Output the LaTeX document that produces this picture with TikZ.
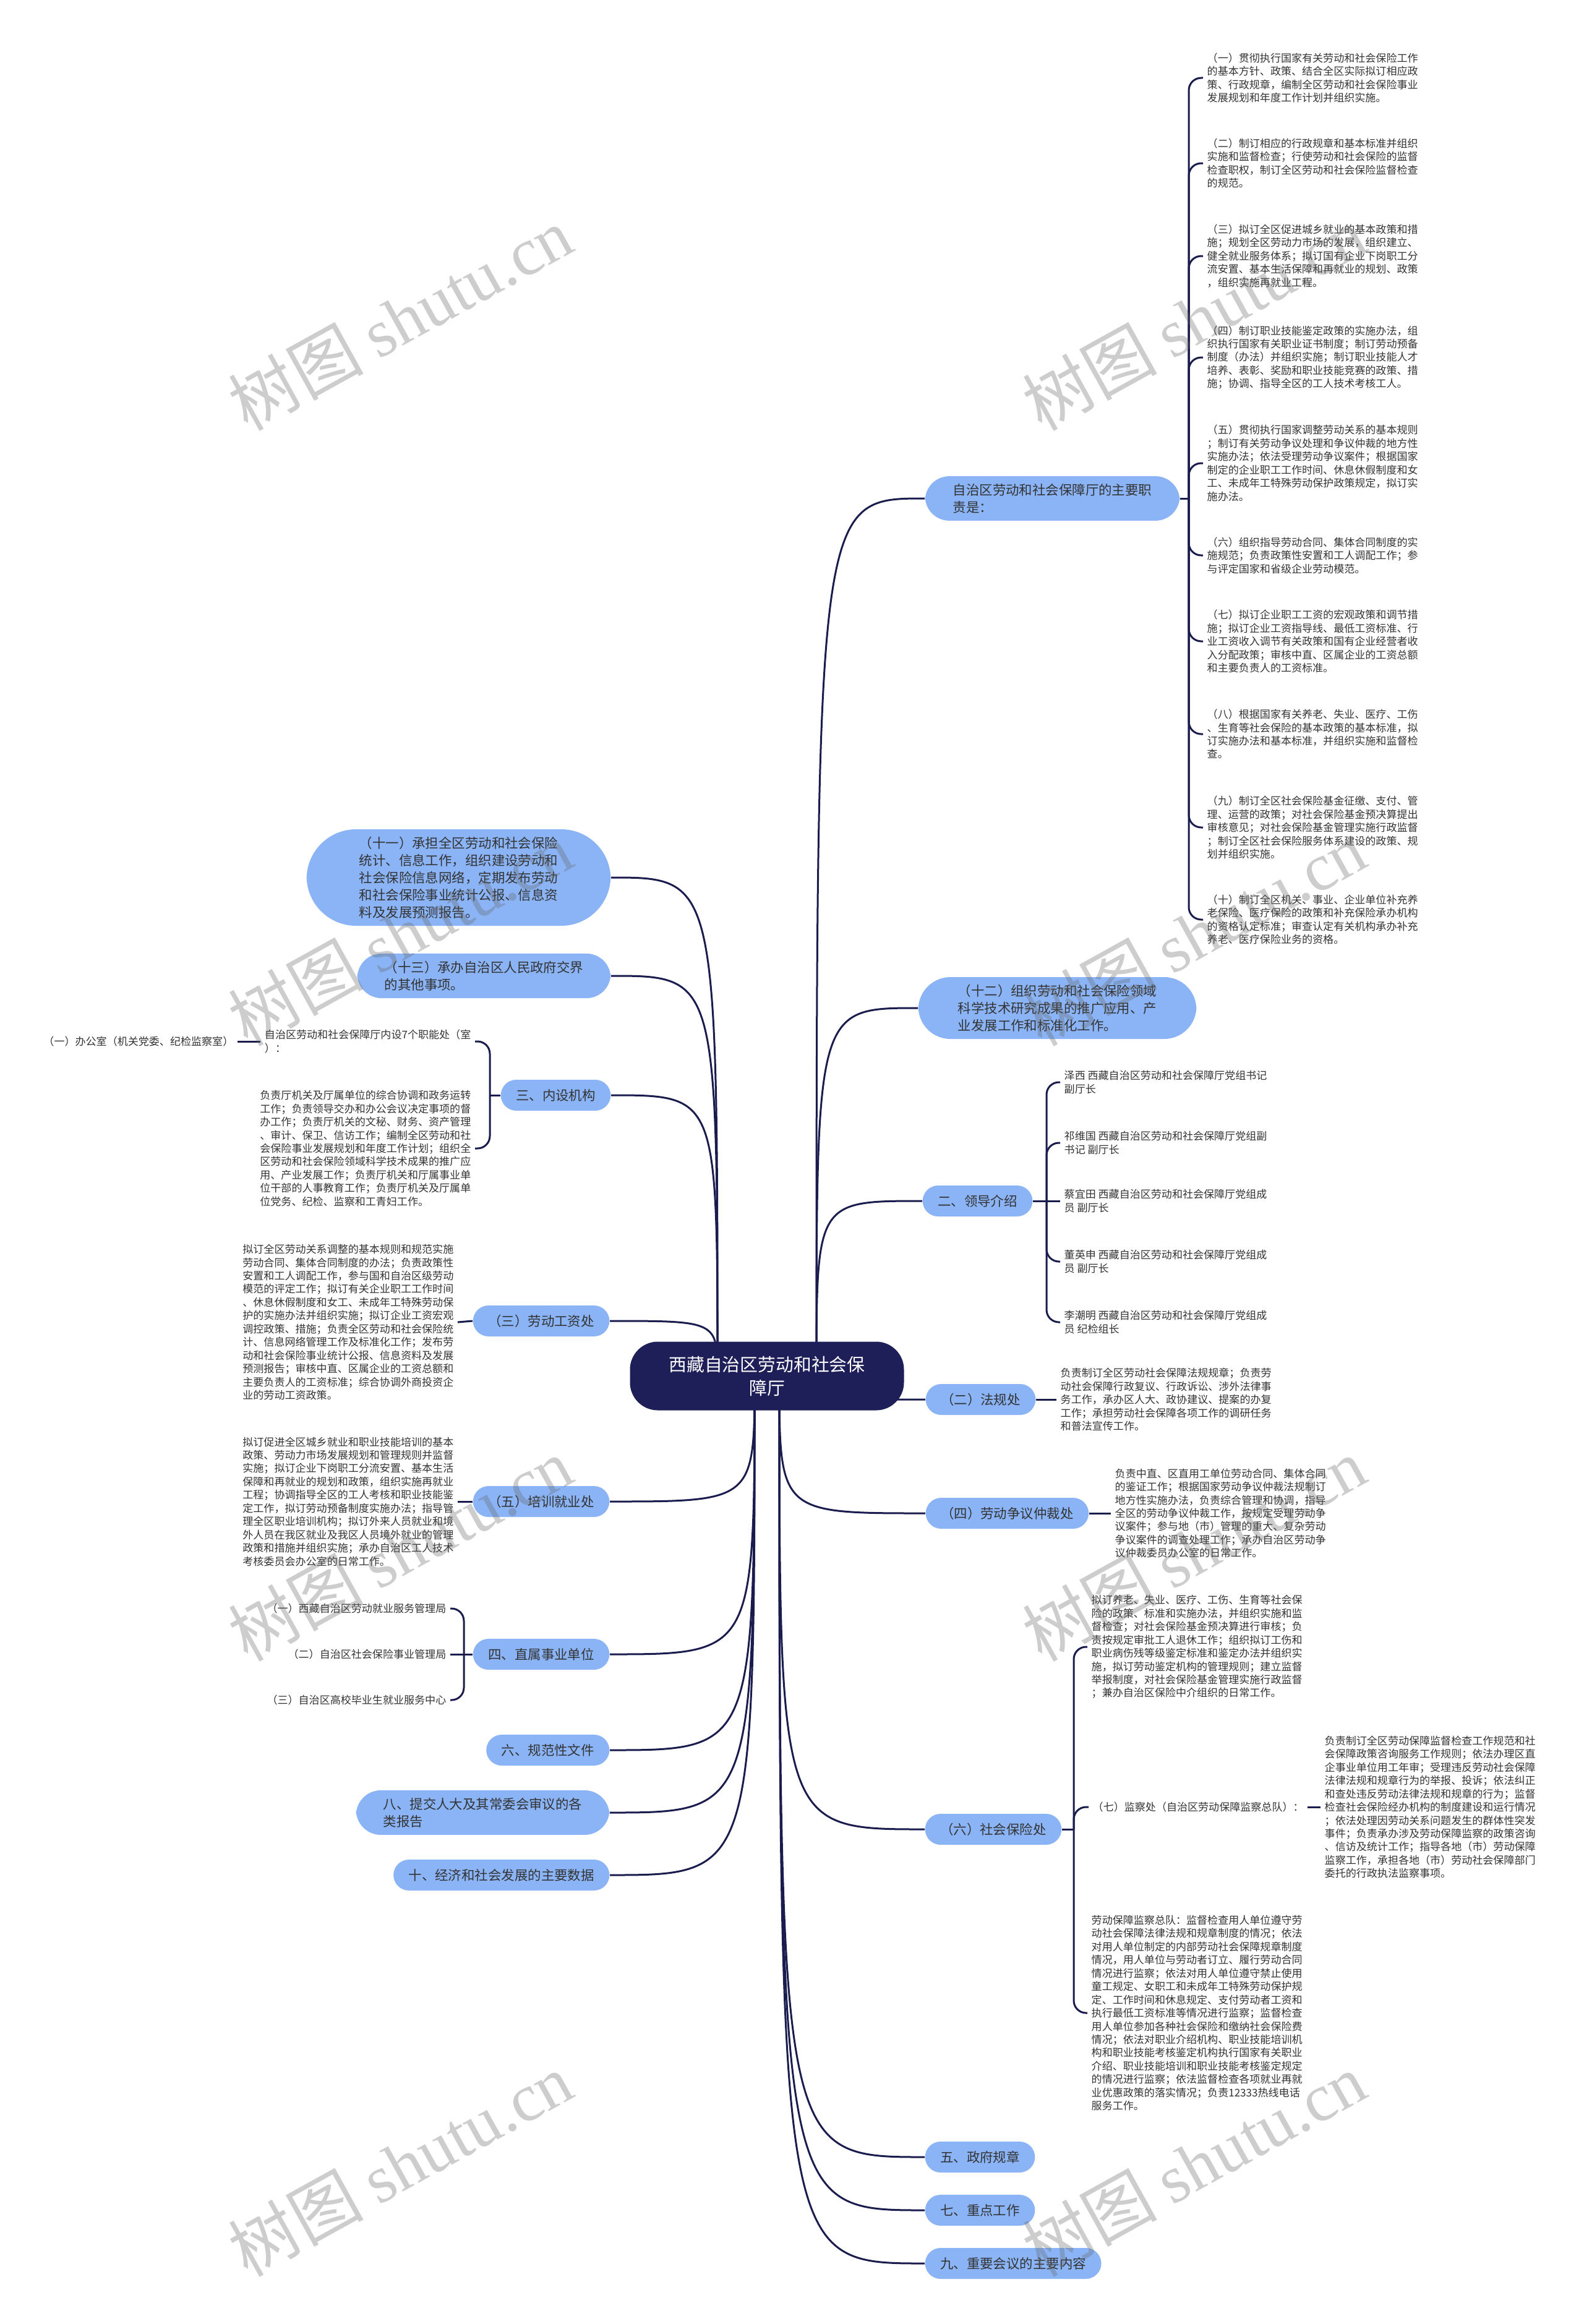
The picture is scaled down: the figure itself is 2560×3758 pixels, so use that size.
\documentclass[tikz,border=0pt]{standalone}
\usepackage{fontspec}
\setmainfont{Noto Sans CJK SC}
\newfontfamily\wmlatin{Liberation Serif}
\usepackage{tikz}
\usetikzlibrary{backgrounds}

\definecolor{pillblue}{RGB}{139,180,247}
\definecolor{rootnavy}{RGB}{30,30,88}
\definecolor{linknavy}{RGB}{26,28,78}
\definecolor{inktext}{RGB}{51,51,51}

\newcommand{\leaffont}{\fontsize{4.85pt}{6.1pt}\selectfont}
\newcommand{\pillfont}{\fontsize{6.1pt}{7.95pt}\selectfont}
\newcommand{\rootfont}{\fontsize{8.2pt}{10.8pt}\selectfont}
\newcommand{\wmfont}{\fontsize{31pt}{33pt}\selectfont}

\begin{document}
\begin{tikzpicture}[
    x=0.1mm, y=-0.1mm,
    linkline/.style={draw=linknavy, line width=0.3mm},
    forkline/.style={linkline, rounded corners=2mm},
    rootbox/.style={
        fill=rootnavy,
        text=white,
        font=\rootfont,
        align=center,
        rounded corners=4.5mm,
        minimum width=44.3mm,
        minimum height=11.1mm
    },
    pillbox/.style={
        fill=pillblue,
        text=inktext,
        font=\pillfont,
        align=left,
        rounded corners=2.5mm,
        minimum height=5mm,
        inner xsep=2.45mm,
        inner ysep=1.2mm
    },
    leaftext/.style={
        text=inktext,
        font=\leaffont,
        align=left,
        inner xsep=0.6mm,
        inner ysep=0.5mm
    },
    wmark/.style={
        text=black!60,
        opacity=0.33,
        rotate=29,
        font=\wmfont
    }
]
\useasboundingbox (0,0) rectangle (2560,3758);

% =========================================================
% root
% =========================================================
\node[rootbox] (root) at (1240,2225) {西藏自治区劳动和社会保\\障厅};

% =========================================================
% right branches
% =========================================================
\node[pillbox, anchor=west, rounded corners=3.9mm, inner xsep=4.5mm] (duty) at (1495,806)
    {自治区劳动和社会保障厅的主要职\\责是：};
\node[pillbox, anchor=west, rounded corners=5.2mm, inner xsep=6.4mm] (sci) at (1484,1630)
    {（十二）组织劳动和社会保险领域\\科学技术研究成果的推广应用、产\\业发展工作和标准化工作。};
\node[pillbox, anchor=west] (lead)  at (1491,1942) {二、领导介绍};
\node[pillbox, anchor=west] (law)   at (1496,2263) {（二）法规处};
\node[pillbox, anchor=west] (arb)   at (1496,2447) {（四）劳动争议仲裁处};
\node[pillbox, anchor=west] (ins)   at (1495,2958) {（六）社会保险处};
\node[pillbox, anchor=west] (regs)  at (1495,3488) {五、政府规章};
\node[pillbox, anchor=west] (keyw)  at (1495,3574) {七、重点工作};
\node[pillbox, anchor=west] (meet)  at (1495,3660) {九、重要会议的主要内容};

% =========================================================
% left branches
% =========================================================
\node[pillbox, anchor=east, rounded corners=8mm, inner xsep=8.5mm] (stat) at (988,1419)
    {（十一）承担全区劳动和社会保险\\统计、信息工作，组织建设劳动和\\社会保险信息网络，定期发布劳动\\和社会保险事业统计公报、信息资\\料及发展预测报告。};
\node[pillbox, anchor=east, rounded corners=3.9mm, inner xsep=4.4mm] (other) at (988,1578)
    {（十三）承办自治区人民政府交界\\的其他事项。};
\node[pillbox, anchor=east] (inner) at (988,1771) {三、内设机构};
\node[pillbox, anchor=east] (wage)  at (986,2136) {（三）劳动工资处};
\node[pillbox, anchor=east] (train) at (986,2428) {（五）培训就业处};
\node[pillbox, anchor=east] (unit)  at (986,2675) {四、直属事业单位};
\node[pillbox, anchor=east] (norm)  at (986,2830) {六、规范性文件};
\node[pillbox, anchor=east, rounded corners=4mm, inner xsep=4.4mm] (report) at (986,2931)
    {八、提交人大及其常委会审议的各\\类报告};
\node[pillbox, anchor=east] (data)  at (986,3032) {十、经济和社会发展的主要数据};

% =========================================================
% main duties (right column)
% =========================================================
\node[leaftext, anchor=west] (duty1) at (1945,126)
    {（一）贯彻执行国家有关劳动和社会保险工作\\的基本方针、政策、结合全区实际拟订相应政\\策、行政规章，编制全区劳动和社会保险事业\\发展规划和年度工作计划并组织实施。};
\node[leaftext, anchor=west] (duty2) at (1945,264)
    {（二）制订相应的行政规章和基本标准并组织\\实施和监督检查；行使劳动和社会保险的监督\\检查职权，制订全区劳动和社会保险监督检查\\的规范。};
\node[leaftext, anchor=west] (duty3) at (1945,414)
    {（三）拟订全区促进城乡就业的基本政策和措\\施；规划全区劳动力市场的发展，组织建立、\\健全就业服务体系；拟订国有企业下岗职工分\\流安置、基本生活保障和再就业的规划、政策\\，组织实施再就业工程。};
\node[leaftext, anchor=west] (duty4) at (1945,578)
    {（四）制订职业技能鉴定政策的实施办法，组\\织执行国家有关职业证书制度；制订劳动预备\\制度（办法）并组织实施；制订职业技能人才\\培养、表彰、奖励和职业技能竞赛的政策、措\\施；协调、指导全区的工人技术考核工人。};
\node[leaftext, anchor=west] (duty5) at (1945,749)
    {（五）贯彻执行国家调整劳动关系的基本规则\\；制订有关劳动争议处理和争议仲裁的地方性\\实施办法；依法受理劳动争议案件；根据国家\\制定的企业职工工作时间、休息休假制度和女\\工、未成年工特殊劳动保护政策规定，拟订实\\施办法。};
\node[leaftext, anchor=west] (duty6) at (1945,898)
    {（六）组织指导劳动合同、集体合同制度的实\\施规范；负责政策性安置和工人调配工作；参\\与评定国家和省级企业劳动模范。};
\node[leaftext, anchor=west] (duty7) at (1945,1037)
    {（七）拟订企业职工工资的宏观政策和调节措\\施；拟订企业工资指导线、最低工资标准、行\\业工资收入调节有关政策和国有企业经营者收\\入分配政策；审核中直、区属企业的工资总额\\和主要负责人的工资标准。};
\node[leaftext, anchor=west] (duty8) at (1945,1187)
    {（八）根据国家有关养老、失业、医疗、工伤\\、生育等社会保险的基本政策的基本标准，拟\\订实施办法和基本标准，并组织实施和监督检\\查。};
\node[leaftext, anchor=west] (duty9) at (1945,1338)
    {（九）制订全区社会保险基金征缴、支付、管\\理、运营的政策；对社会保险基金预决算提出\\审核意见；对社会保险基金管理实施行政监督\\；制订全区社会保险服务体系建设的政策、规\\划并组织实施。};
\node[leaftext, anchor=west] (duty10) at (1945,1487)
    {（十）制订全区机关、事业、企业单位补充养\\老保险、医疗保险的政策和补充保险承办机构\\的资格认定标准；审查认定有关机构承办补充\\养老、医疗保险业务的资格。};

% =========================================================
% leaders, offices
% =========================================================
\node[leaftext, anchor=west] (lead1) at (1714,1750) {泽西 西藏自治区劳动和社会保障厅党组书记\\副厅长};
\node[leaftext, anchor=west] (lead2) at (1714,1848) {祁维国 西藏自治区劳动和社会保障厅党组副\\书记 副厅长};
\node[leaftext, anchor=west] (lead3) at (1714,1942) {蔡宜田 西藏自治区劳动和社会保障厅党组成\\员 副厅长};
\node[leaftext, anchor=west] (lead4) at (1714,2040) {董英申 西藏自治区劳动和社会保障厅党组成\\员 副厅长};
\node[leaftext, anchor=west] (lead5) at (1714,2138) {李潮明 西藏自治区劳动和社会保障厅党组成\\员 纪检组长};

\node[leaftext, anchor=west] (lawtxt) at (1708,2263)
    {负责制订全区劳动社会保障法规规章；负责劳\\动社会保障行政复议、行政诉讼、涉外法律事\\务工作，承办区人大、政协建议、提案的办复\\工作；承担劳动社会保障各项工作的调研任务\\和普法宣传工作。};
\node[leaftext, anchor=west] (arbtxt) at (1796,2447)
    {负责中直、区直用工单位劳动合同、集体合同\\的鉴证工作；根据国家劳动争议仲裁法规制订\\地方性实施办法，负责综合管理和协调，指导\\全区的劳动争议仲裁工作，按规定受理劳动争\\议案件；参与地（市）管理的重大、复杂劳动\\争议案件的调查处理工作；承办自治区劳动争\\议仲裁委员办公室的日常工作。};

\node[leaftext, anchor=west] (ins1) at (1758,2663)
    {拟订养老、失业、医疗、工伤、生育等社会保\\险的政策、标准和实施办法，并组织实施和监\\督检查；对社会保险基金预决算进行审核；负\\责按规定审批工人退休工作；组织拟订工伤和\\职业病伤残等级鉴定标准和鉴定办法并组织实\\施，拟订劳动鉴定机构的管理规则；建立监督\\举报制度，对社会保险基金管理实施行政监督\\；兼办自治区保险中介组织的日常工作。};
\node[leaftext, anchor=west] (ins7) at (1760,2922) {（七）监察处（自治区劳动保障监察总队）：};
\node[leaftext, anchor=west] (inspect) at (2135,2922)
    {负责制订全区劳动保障监督检查工作规范和社\\会保障政策咨询服务工作规则；依法办理区直\\企事业单位用工年审；受理违反劳动社会保障\\法律法规和规章行为的举报、投诉；依法纠正\\和查处违反劳动法律法规和规章的行为；监督\\检查社会保险经办机构的制度建设和运行情况\\；依法处理因劳动关系问题发生的群体性突发\\事件；负责承办涉及劳动保障监察的政策咨询\\、信访及统计工作；指导各地（市）劳动保障\\监察工作，承担各地（市）劳动社会保障部门\\委托的行政执法监察事项。};
\node[leaftext, anchor=west] (ins2) at (1758,3255)
    {劳动保障监察总队：监督检查用人单位遵守劳\\动社会保障法律法规和规章制度的情况；依法\\对用人单位制定的内部劳动社会保障规章制度\\情况，用人单位与劳动者订立、履行劳动合同\\情况进行监察；依法对用人单位遵守禁止使用\\童工规定、女职工和未成年工特殊劳动保护规\\定、工作时间和休息规定、支付劳动者工资和\\执行最低工资标准等情况进行监察；监督检查\\用人单位参加各种社会保险和缴纳社会保险费\\情况；依法对职业介绍机构、职业技能培训机\\构和职业技能考核鉴定机构执行国家有关职业\\介绍、职业技能培训和职业技能考核鉴定规定\\的情况进行监察；依法监督检查各项就业再就\\业优惠政策的落实情况；负责12333热线电话\\服务工作。};

% left leaves
\node[leaftext, anchor=east] (seven) at (768,1684) {自治区劳动和社会保障厅内设7个职能处（室\\）：};
\node[leaftext, anchor=east] (office) at (384,1684) {（一）办公室（机关党委、纪检监察室）};
\node[leaftext, anchor=east] (hall) at (768,1857)
    {负责厅机关及厅属单位的综合协调和政务运转\\工作；负责领导交办和办公会议决定事项的督\\办工作；负责厅机关的文秘、财务、资产管理\\、审计、保卫、信访工作；编制全区劳动和社\\会保险事业发展规划和年度工作计划；组织全\\区劳动和社会保险领域科学技术成果的推广应\\用、产业发展工作；负责厅机关和厅属事业单\\位干部的人事教育工作；负责厅机关及厅属单\\位党务、纪检、监察和工青妇工作。};
\node[leaftext, anchor=east] (wagetxt) at (740,2138)
    {拟订全区劳动关系调整的基本规则和规范实施\\劳动合同、集体合同制度的办法；负责政策性\\安置和工人调配工作，参与国和自治区级劳动\\模范的评定工作；拟订有关企业职工工作时间\\、休息休假制度和女工、未成年工特殊劳动保\\护的实施办法并组织实施；拟订企业工资宏观\\调控政策、措施；负责全区劳动和社会保险统\\计、信息网络管理工作及标准化工作；发布劳\\动和社会保险事业统计公报、信息资料及发展\\预测报告；审核中直、区属企业的工资总额和\\主要负责人的工资标准；综合协调外商投资企\\业的劳动工资政策。};
\node[leaftext, anchor=east] (traintxt) at (740,2428)
    {拟订促进全区城乡就业和职业技能培训的基本\\政策、劳动力市场发展规划和管理规则并监督\\实施；拟订企业下岗职工分流安置、基本生活\\保障和再就业的规划和政策，组织实施再就业\\工程；协调指导全区的工人考核和职业技能鉴\\定工作，拟订劳动预备制度实施办法；指导管\\理全区职业培训机构；拟订外来人员就业和境\\外人员在我区就业及我区人员境外就业的管理\\政策和措施并组织实施；承办自治区工人技术\\考核委员会办公室的日常工作。};
\node[leaftext, anchor=east] (unit1) at (728,2601) {（一）西藏自治区劳动就业服务管理局};
\node[leaftext, anchor=east] (unit2) at (728,2675) {（二）自治区社会保险事业管理局};
\node[leaftext, anchor=east] (unit3) at (728,2749) {（三）自治区高校毕业生就业服务中心};

% =========================================================
% connectors
% =========================================================
\begin{scope}[on background layer]
\coordinate (rUR) at (1320,2225);
\coordinate (rLR) at (1260,2225);
\coordinate (rUL) at (1160,2225);
\coordinate (rLL) at (1220,2225);

% root to right branches
\draw[linkline] (rUR) .. controls (rUR |- duty.west) .. (duty.west);
\draw[linkline] (rUR) .. controls (rUR |- sci.west) .. (sci.west);
\draw[linkline] (rUR) .. controls (rUR |- lead.west) .. (lead.west);
\draw[linkline] (rLR) .. controls (rLR |- law.west) .. (law.west);
\draw[linkline] (rLR) .. controls (rLR |- arb.west) .. (arb.west);
\draw[linkline] (rLR) .. controls (rLR |- ins.west) .. (ins.west);
\draw[linkline] (rLR) .. controls (rLR |- regs.west) .. (regs.west);
\draw[linkline] (rLR) .. controls (rLR |- keyw.west) .. (keyw.west);
\draw[linkline] (rLR) .. controls (rLR |- meet.west) .. (meet.west);

% root to left branches
\draw[linkline] (rUL) .. controls (rUL |- stat.east) .. (stat.east);
\draw[linkline] (rUL) .. controls (rUL |- other.east) .. (other.east);
\draw[linkline] (rUL) .. controls (rUL |- inner.east) .. (inner.east);
\draw[linkline] (rUL) .. controls (rUL |- wage.east) .. (wage.east);
\draw[linkline] (rLL) .. controls (rLL |- train.east) .. (train.east);
\draw[linkline] (rLL) .. controls (rLL |- unit.east) .. (unit.east);
\draw[linkline] (rLL) .. controls (rLL |- norm.east) .. (norm.east);
\draw[linkline] (rLL) .. controls (rLL |- report.east) .. (report.east);
\draw[linkline] (rLL) .. controls (rLL |- data.east) .. (data.east);

% duties fork
\coordinate (dutyJ) at (1922,806);
\draw[linkline] (duty.east) -- (dutyJ);
\draw[forkline] (dutyJ) |- (duty1.west);
\draw[forkline] (dutyJ) |- (duty2.west);
\draw[forkline] (dutyJ) |- (duty3.west);
\draw[forkline] (dutyJ) |- (duty4.west);
\draw[forkline] (dutyJ) |- (duty5.west);
\draw[forkline] (dutyJ) |- (duty6.west);
\draw[forkline] (dutyJ) |- (duty7.west);
\draw[forkline] (dutyJ) |- (duty8.west);
\draw[forkline] (dutyJ) |- (duty9.west);
\draw[forkline] (dutyJ) |- (duty10.west);

% leaders fork
\coordinate (leadJ) at (1692,1942);
\draw[linkline] (lead.east) -- (leadJ);
\draw[forkline] (leadJ) |- (lead1.west);
\draw[forkline] (leadJ) |- (lead2.west);
\draw[linkline] (leadJ) -- (lead3.west);
\draw[forkline] (leadJ) |- (lead4.west);
\draw[forkline] (leadJ) |- (lead5.west);

\draw[linkline] (law.east) -- (lawtxt.west);
\draw[linkline] (arb.east) -- (arbtxt.west);

% social insurance fork
\coordinate (insJ) at (1736,2958);
\draw[linkline] (ins.east) -- (insJ);
\draw[forkline] (insJ) |- (ins1.west);
\draw[forkline] (insJ) |- (ins7.west);
\draw[forkline] (insJ) |- (ins2.west);
\draw[linkline] (ins7.east) -- (inspect.west);

% inner offices fork
\coordinate (innerJ) at (792,1771);
\draw[linkline] (inner.west) -- (innerJ);
\draw[forkline] (innerJ) |- (seven.east);
\draw[forkline] (innerJ) |- (hall.east);
\draw[linkline] (seven.west) -- (office.east);

\draw[linkline] (wage.west) -- (wagetxt.east);
\draw[linkline] (train.west) -- (traintxt.east);

% units fork
\coordinate (unitJ) at (750,2675);
\draw[linkline] (unit.west) -- (unitJ);
\draw[forkline] (unitJ) |- (unit1.east);
\draw[linkline] (unitJ) -- (unit2.east);
\draw[forkline] (unitJ) |- (unit3.east);
\end{scope}

% =========================================================
% watermarks
% =========================================================
\node[wmark] (wm1) at (647,515)   {树图 {\wmlatin shutu.cn}};
\node[wmark] (wm2) at (1930,515)  {树图 {\wmlatin shutu.cn}};
\node[wmark] (wm3) at (647,1510)  {树图 {\wmlatin shutu.cn}};
\node[wmark] (wm4) at (1930,1510) {树图 {\wmlatin shutu.cn}};
\node[wmark] (wm5) at (647,2505)  {树图 {\wmlatin shutu.cn}};
\node[wmark] (wm6) at (1930,2505) {树图 {\wmlatin shutu.cn}};
\node[wmark] (wm7) at (647,3500)  {树图 {\wmlatin shutu.cn}};
\node[wmark] (wm8) at (1930,3500) {树图 {\wmlatin shutu.cn}};

\end{tikzpicture}
\end{document}
